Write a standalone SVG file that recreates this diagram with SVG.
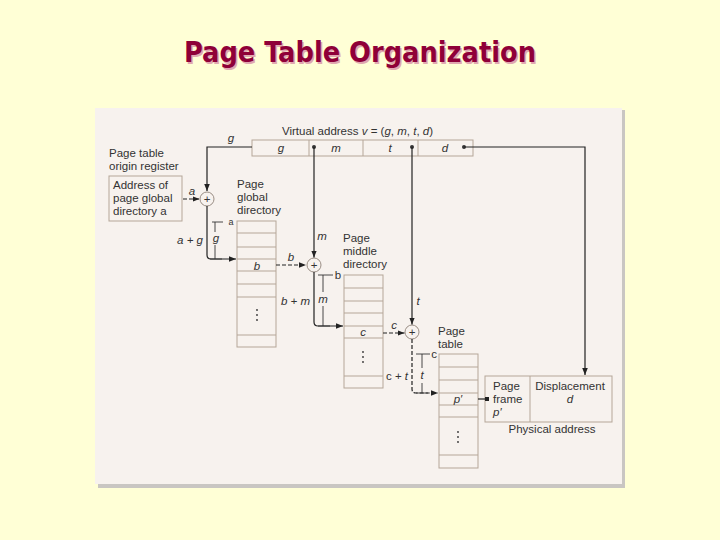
<svg xmlns="http://www.w3.org/2000/svg" width="720" height="540" viewBox="0 0 720 540">
<defs>
<marker id="ah" viewBox="0 0 10 10" refX="10" refY="5" markerWidth="7" markerHeight="7" markerUnits="userSpaceOnUse" orient="auto"><path d="M0,1 L10,5 L0,9 z" fill="#222"/></marker>
<style>
.t{font-family:"Liberation Sans",Arial,sans-serif;font-size:11.5px;fill:#333}
.i{font-family:"Liberation Sans",Arial,sans-serif;font-size:11.5px;font-style:italic;fill:#333}
.s{font-family:"Liberation Sans",Arial,sans-serif;font-size:9px;fill:#333}
.tb{fill:none;stroke:#b5a698;stroke-width:1}
.ln{fill:none;stroke:#222;stroke-width:1.2}
.ds{fill:none;stroke:#222;stroke-width:1.2;stroke-dasharray:4 2}
.br{fill:none;stroke:#333;stroke-width:0.9}
.ad{fill:#f7f2ee;stroke:#9a8e85;stroke-width:1}
.dot{fill:#333}
</style>
</defs>
<rect width="720" height="540" fill="#ffffd6"/>
<g id="title">
<text x="361.5" y="63.5" text-anchor="middle" font-family="'DejaVu Sans Condensed','DejaVu Sans',sans-serif" font-weight="bold" font-size="28" fill="#e0a8b0" textLength="352" lengthAdjust="spacingAndGlyphs">Page Table Organization</text>
<text x="360" y="62" text-anchor="middle" font-family="'DejaVu Sans Condensed','DejaVu Sans',sans-serif" font-weight="bold" font-size="28" fill="#8f0038" textLength="352" lengthAdjust="spacingAndGlyphs">Page Table Organization</text>
</g>
<rect x="98" y="110" width="527" height="378" fill="#c9c6c2"/>
<rect x="95" y="108" width="527" height="376" fill="#f7f2ee"/>

<g id="register">
<text class="t" x="109" y="157">Page table</text>
<text class="t" x="109" y="170">origin register</text>
<rect x="109" y="176" width="73" height="45" fill="none" stroke="#b5a698"/>
<text class="t" x="113" y="189">Address of</text>
<text class="t" x="113" y="202">page global</text>
<text class="t" x="113" y="215">directory a</text>
</g>

<g id="vaddr">
<text class="t" x="282" y="135">Virtual address <tspan class="i">v</tspan> = (<tspan class="i">g</tspan>, <tspan class="i">m</tspan>, <tspan class="i">t</tspan>, <tspan class="i">d</tspan>)</text>
<rect class="tb" x="252" y="140" width="221" height="16"/>
<path class="tb" d="M309,140V156M363,140V156M418,140V156"/>
<text class="i" x="281" y="152" text-anchor="middle">g</text>
<text class="i" x="336" y="152" text-anchor="middle">m</text>
<text class="i" x="390" y="152" text-anchor="middle">t</text>
<text class="i" x="445" y="152" text-anchor="middle">d</text>
<circle class="dot" cx="314" cy="147" r="2"/>
<circle class="dot" cx="412" cy="147" r="2"/>
<circle class="dot" cx="464" cy="147" r="2"/>
</g>

<g id="pgd">
<text class="t" x="237" y="188">Page</text>
<text class="t" x="237" y="201">global</text>
<text class="t" x="237" y="214">directory</text>
<rect class="tb" x="237" y="221" width="39" height="126"/>
<path class="tb" d="M237,233H276M237,247H276M237,259H276M237,271H276M237,284H276M237,297H276M237,335H276"/>
<text class="i" x="257" y="270" text-anchor="middle">b</text>
<circle class="dot" cx="257" cy="310" r="0.9"/><circle class="dot" cx="257" cy="315" r="0.9"/><circle class="dot" cx="257" cy="320" r="0.9"/>
</g>

<g id="pmd">
<text class="t" x="343" y="242">Page</text>
<text class="t" x="343" y="255">middle</text>
<text class="t" x="343" y="268">directory</text>
<rect class="tb" x="344" y="275" width="39" height="113"/>
<path class="tb" d="M344,288H383M344,301H383M344,313H383M344,326H383M344,338H383M344,376H383"/>
<text class="i" x="363" y="336" text-anchor="middle">c</text>
<circle class="dot" cx="363" cy="352" r="0.9"/><circle class="dot" cx="363" cy="357" r="0.9"/><circle class="dot" cx="363" cy="362" r="0.9"/>
</g>

<g id="pt">
<text class="t" x="438" y="335">Page</text>
<text class="t" x="438" y="348">table</text>
<rect class="tb" x="439" y="354" width="39" height="114"/>
<path class="tb" d="M439,367H478M439,380H478M439,393H478M439,405H478M439,417H478M439,455H478"/>
<text class="i" x="458" y="403" text-anchor="middle">p′</text>
<circle class="dot" cx="458" cy="432" r="0.9"/><circle class="dot" cx="458" cy="437" r="0.9"/><circle class="dot" cx="458" cy="442" r="0.9"/>
</g>

<g id="physaddr">
<rect class="tb" x="485" y="376" width="127" height="46"/>
<path class="tb" d="M530,376V422"/>
<text class="t" x="493" y="390">Page</text>
<text class="t" x="493" y="403">frame</text>
<text class="i" x="493" y="416">p′</text>
<text class="t" x="570" y="390" text-anchor="middle">Displacement</text>
<text class="i" x="570" y="403" text-anchor="middle">d</text>
<text class="t" x="552" y="433" text-anchor="middle">Physical address</text>
</g>

<g id="adder1"><circle class="ad" cx="207" cy="199" r="7"/><text class="t" x="207" y="203" text-anchor="middle">+</text></g>
<g id="adder2"><circle class="ad" cx="314" cy="265" r="7"/><text class="t" x="314" y="269" text-anchor="middle">+</text></g>
<g id="adder3"><circle class="ad" cx="412" cy="332" r="7"/><text class="t" x="412" y="336" text-anchor="middle">+</text></g>

<g id="connectors">
<path class="ln" d="M252,147H207V191" marker-end="url(#ah)"/>
<text class="i" x="231" y="142" text-anchor="middle">g</text>
<path class="ds" d="M183,199H199.5" marker-end="url(#ah)"/>
<text class="i" x="192" y="195" text-anchor="middle">a</text>
<path class="ln" d="M207,206V255Q207,259 211,259H236" marker-end="url(#ah)"/>
<text class="i" x="203" y="244" text-anchor="end">a + g</text>
<path class="ds" d="M276,265H306" marker-end="url(#ah)"/>
<text class="i" x="291" y="261" text-anchor="middle">b</text>
<path class="ln" d="M314,147V257.5" marker-end="url(#ah)"/>
<text class="i" x="322" y="240" text-anchor="middle">m</text>
<path class="ln" d="M314,272V322Q314,326 318,326H343" marker-end="url(#ah)"/>
<text class="i" x="310" y="305" text-anchor="end">b + m</text>
<path class="ds" d="M383,333H404.5" marker-end="url(#ah)"/>
<text class="i" x="394" y="329" text-anchor="middle">c</text>
<path class="ln" d="M412,147V324.5" marker-end="url(#ah)"/>
<text class="i" x="418" y="305" text-anchor="middle">t</text>
<path class="ds" d="M412,339V389Q412,393 416,393H438" marker-end="url(#ah)"/>
<text class="t" x="408" y="380" text-anchor="end">c + <tspan class="i">t</tspan></text>
<path class="ln" d="M478,399H485"/>
<rect x="485" y="397" width="4" height="4" fill="#222"/>
<path class="ln" d="M464,147H585V375" marker-end="url(#ah)"/>
<path class="br" d="M212,222H223M215,222V232M215,245V259M210,259H222"/>
<text class="i" x="216" y="242" text-anchor="middle">g</text>
<text class="s" x="231" y="225" text-anchor="middle">a</text>
<path class="br" d="M318,275H333M323,275V292M323,306V326M318,326H330"/>
<text class="i" x="323" y="303" text-anchor="middle">m</text>
<text class="t" x="338" y="279" text-anchor="middle">b</text>
<path class="br" d="M416,354H430M422,354V368M422,383V393M416,393H428"/>
<text class="i" x="422" y="379" text-anchor="middle">t</text>
<text class="t" x="434" y="358" text-anchor="middle">c</text>
</g>
</svg>
